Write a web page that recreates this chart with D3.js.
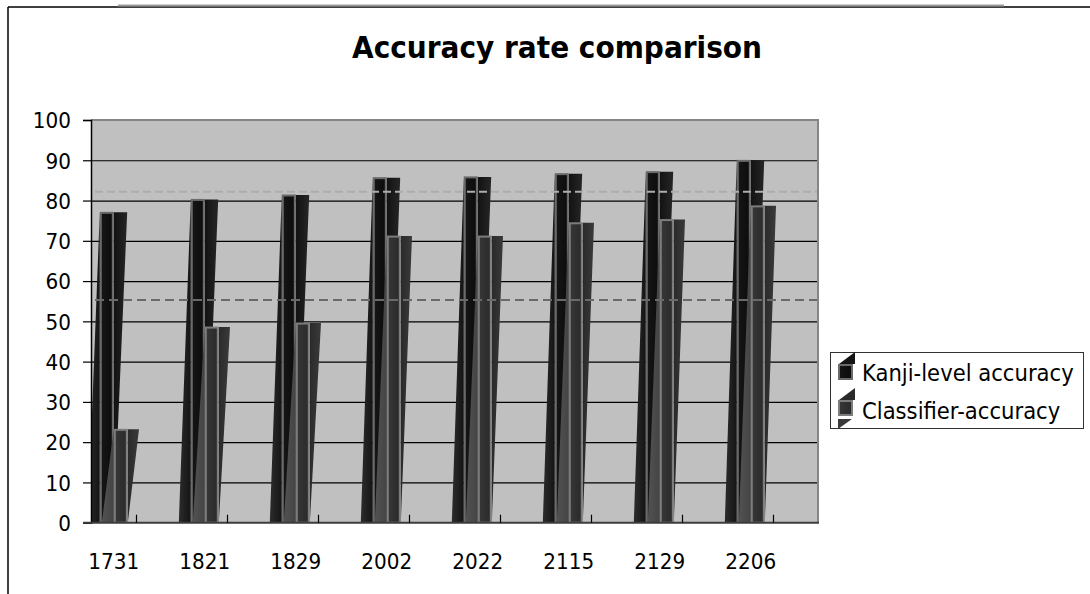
<!DOCTYPE html>
<html>
<head>
<meta charset="utf-8">
<script src="https://cdn.jsdelivr.net/npm/d3@7"></script>
<style>
  body { margin: 0; background: #fff; }
  svg { display: block; font-family: 'DejaVu Sans', Verdana, sans-serif; }
</style>
</head>
<body>
<div class="canvas"></div>
<script>
// data
const categories = ['1731', '1821', '1829', '2002', '2022', '2115', '2129', '2206'];
const kanjiAccuracy = [77.2, 80.4, 81.5, 85.8, 86.0, 86.8, 87.3, 90.1];
const classifierAccuracy = [23.3, 48.7, 49.7, 71.3, 71.3, 74.6, 75.4, 78.8];
const seriesNames = ['Kanji-level accuracy', 'Classifier-accuracy'];
const yTicks = [0, 10, 20, 30, 40, 50, 60, 70, 80, 90, 100];
const refLines = [82.2, 55.3]; // dashed reference lines

const width = 1090, height = 594;
const plot = { left: 91, right: 819, top: 120, bottom: 522.7 };

const svg = d3.select('.canvas')
  .append('svg')
  .attr('width', width)
  .attr('height', height);

const defs = svg.append('defs');
defs.append('clipPath').attr('id', 'plotClip')
  .append('rect')
  .attr('x', plot.left).attr('y', plot.top - 2)
  .attr('width', plot.right - plot.left).attr('height', plot.bottom - plot.top + 2);

// squeeze DejaVu a little towards Tahoma width
const condense = (sel, k) => sel.each(function () {
  const w = this.getComputedTextLength();
  d3.select(this).attr('textLength', w * k).attr('lengthAdjust', 'spacingAndGlyphs');
});

// outer chart frame (cropped)
svg.append('line').attr('x1', 8).attr('x2', 8).attr('y1', 7).attr('y2', height)
  .attr('stroke', '#000').attr('stroke-width', 1.5);
svg.append('line').attr('x1', 8).attr('x2', width).attr('y1', 7).attr('y2', 7)
  .attr('stroke', '#000').attr('stroke-width', 1.5);
svg.append('line').attr('x1', 118).attr('x2', 1004).attr('y1', 5.5).attr('y2', 5.5)
  .attr('stroke', '#9a9a9a').attr('stroke-width', 2);

// scales
const x = d3.scaleBand().domain(categories).range([plot.left, plot.right]);
const y = d3.scaleLinear().domain([0, 100]).range([plot.bottom, plot.top]);

// plot background
svg.append('rect')
  .attr('x', plot.left).attr('y', plot.top)
  .attr('width', plot.right - plot.left).attr('height', plot.bottom - plot.top)
  .attr('fill', '#c0c0c0');

// gridlines
const grid = svg.append('g')
  .attr('transform', `translate(${plot.left},0)`)
  .call(d3.axisLeft(y).tickValues(yTicks.filter(t => t > 0 && t < 100))
    .tickSize(-(plot.right - plot.left)).tickFormat(''));
grid.select('.domain').remove();
grid.selectAll('line').attr('stroke', '#000').attr('stroke-width', 1.2);

// bars: front face, slanted side piece on the right, wedge on the left
const gradients = [
  { id: 'kFront', stops: ['#161616', '#0c0c0c'] },
  { id: 'kTwin', stops: ['#121212', '#262626'] },
  { id: 'kWedge', stops: ['#2c2c2c', '#141414'] },
  { id: 'cFront', stops: ['#373737', '#2a2a2a'] },
  { id: 'cTwin', stops: ['#2a2a2a', '#3a3a3a'] },
  { id: 'cWedge', stops: ['#525252', '#444444'] }
];
gradients.forEach(g => {
  const lg = defs.append('linearGradient').attr('id', g.id)
    .attr('x1', '0%').attr('x2', '100%').attr('y1', '0%').attr('y2', '0%');
  lg.append('stop').attr('offset', '0%').attr('stop-color', g.stops[0]);
  lg.append('stop').attr('offset', '100%').attr('stop-color', g.stops[1]);
});

const series = [
  { name: seriesNames[0], values: kanjiAccuracy, key: 'k', offset: 8.8, twinW: 13.4, border: '#6a6a6a' },
  { name: seriesNames[1], values: classifierAccuracy, key: 'c', offset: 22.8, twinW: 11.2, border: '#7c7c7c' }
];
const faceW = 14, wedgeW = 12;

const barsG = svg.append('g').attr('clip-path', 'url(#plotClip)');

series.forEach(s => {
  const bars = s.values.map((v, i) => ({ cat: categories[i], value: v }));
  const g = barsG.append('g');

  g.selectAll('path.wedge').data(bars).enter().append('path')
    .attr('class', 'wedge')
    .attr('fill', `url(#${s.key}Wedge)`)
    .attr('d', d => {
      const f = x(d.cat) + s.offset;
      return `M${f - wedgeW},${y(0)}L${f},${y(d.value)}L${f},${y(0)}Z`;
    });

  g.selectAll('path.twin').data(bars).enter().append('path')
    .attr('class', 'twin')
    .attr('fill', `url(#${s.key}Twin)`)
    .attr('d', d => {
      const f = x(d.cat) + s.offset + faceW;
      return `M${f},${y(d.value) + 0.5}L${f + s.twinW},${y(d.value) + 0.5}L${f},${y(0)}Z`;
    });

  g.selectAll('rect.front').data(bars).enter().append('rect')
    .attr('class', 'front')
    .attr('x', d => x(d.cat) + s.offset + 1)
    .attr('y', d => y(d.value) + 1)
    .attr('width', faceW - 2)
    .attr('height', d => y(0) - y(d.value) - 1)
    .attr('fill', `url(#${s.key}Front)`)
    .attr('stroke', s.border)
    .attr('stroke-width', 2);
});

// dashed reference lines, on top of bars
svg.append('line')
  .attr('x1', 95).attr('x2', plot.right - 1)
  .attr('y1', y(refLines[0])).attr('y2', y(refLines[0]))
  .attr('stroke', '#adadad').attr('stroke-width', 2).attr('stroke-dasharray', '8,4');
svg.append('line')
  .attr('x1', 95).attr('x2', plot.right - 1)
  .attr('y1', y(refLines[1])).attr('y2', y(refLines[1]))
  .attr('stroke', '#6a6a6a').attr('stroke-width', 2).attr('stroke-dasharray', '9,5');

// plot border (top + right)
svg.append('path')
  .attr('d', `M${plot.left},${plot.top}H${plot.right - 1}V${plot.bottom}`)
  .attr('fill', 'none').attr('stroke', '#858585').attr('stroke-width', 2);

// y axis
const yAxisGroup = svg.append('g')
  .attr('transform', `translate(${plot.left},0)`)
  .call(d3.axisLeft(y).tickValues(yTicks).tickSize(8).tickPadding(12));
yAxisGroup.select('.domain').attr('stroke', '#000').attr('stroke-width', 1.5);
yAxisGroup.selectAll('line').attr('stroke', '#000').attr('stroke-width', 1.2);
yAxisGroup.selectAll('text')
  .attr('fill', '#000')
  .style('font-size', '21.5px')
  .style('font-family', "'DejaVu Sans', sans-serif")
  .attr('dy', '0.36em')
  .call(condense, 0.93);

// x axis (ticks point up, labels sit left of the tick)
const xAxisGroup = svg.append('g')
  .attr('transform', `translate(0,${plot.bottom})`)
  .call(d3.axisBottom(x).tickSize(-8).tickPadding(0).tickSizeOuter(0));
xAxisGroup.select('.domain')
  .attr('d', `M${plot.left - 8},0H${plot.right}`)
  .attr('stroke', '#3c3c3c').attr('stroke-width', 2);
xAxisGroup.selectAll('line').attr('stroke', '#000').attr('stroke-width', 1.2);
xAxisGroup.selectAll('text')
  .attr('fill', '#000')
  .attr('x', -x.bandwidth() / 2 + 22.7)
  .attr('y', 46.5)
  .attr('dy', 0)
  .style('font-size', '21.5px')
  .style('font-family', "'DejaVu Sans', sans-serif")
  .call(condense, 0.93);

// title
svg.append('text')
  .attr('x', 557).attr('y', 58)
  .attr('text-anchor', 'middle')
  .attr('font-weight', 'bold')
  .attr('font-size', 31)
  .attr('textLength', 410)
  .attr('lengthAdjust', 'spacingAndGlyphs')
  .text('Accuracy rate comparison');

// legend
const legend = svg.append('g');
legend.append('rect')
  .attr('x', 830.5).attr('y', 352.5).attr('width', 253).attr('height', 76)
  .attr('fill', '#fff').attr('stroke', '#333').attr('stroke-width', 1);

const legendRows = [
  { name: seriesNames[0], key: 'k', border: '#6a6a6a', top: 365, baseline: 381 },
  { name: seriesNames[1], key: 'c', border: '#7c7c7c', top: 401, baseline: 418.5 }
];
legendRows.forEach(r => {
  legend.append('path')
    .attr('d', `M839,${r.top - 1}L855,${r.top - 13}L855,${r.top - 1}Z`)
    .attr('fill', r.key === 'k' ? '#151515' : '#2a2a2a');
  legend.append('rect')
    .attr('x', 839).attr('y', r.top).attr('width', 13).attr('height', 14)
    .attr('fill', `url(#${r.key}Front)`).attr('stroke', r.border).attr('stroke-width', 2);
  legend.append('text')
    .attr('x', 862).attr('y', r.baseline)
    .attr('font-size', 22.5)
    .text(r.name)
    .call(condense, 0.94);
});
legend.append('path')
  .attr('d', 'M838,419L852,419L838,429Z')
  .attr('fill', '#3a3a3a');
</script>
</body>
</html>
